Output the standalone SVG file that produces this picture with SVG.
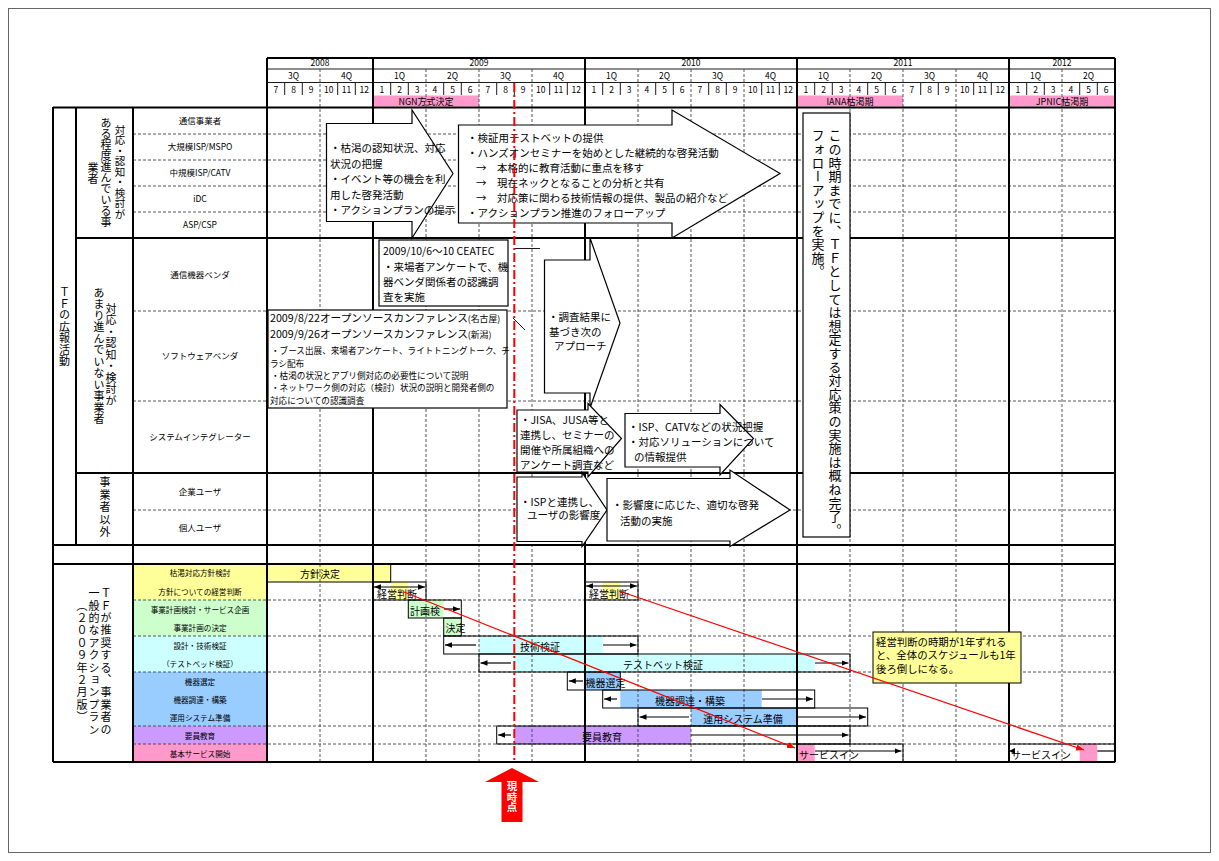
<svg xmlns="http://www.w3.org/2000/svg" width="1219" height="861" viewBox="0 0 1219 861">
<defs>
<style>
text{font-family:"Noto Sans CJK JP","Liberation Sans",sans-serif;fill:#000}
.th{stroke:#000;stroke-width:2;fill:none}
.tn{stroke:#000;stroke-width:0.9;fill:none}
.ds{stroke:#444;stroke-width:0.9;stroke-dasharray:3 2;fill:none}
.hd{font-size:8.5px;text-anchor:middle}
.lb{font-size:8.5px;text-anchor:middle}
.lb2{font-size:7.6px;text-anchor:middle}
.vt{writing-mode:vertical-rl;font-size:11px;text-anchor:middle}
.sh{fill:#fff;stroke:#000;stroke-width:1.2}
.bt{font-size:10.5px}
.st{font-size:8.6px}
.gb{fill:none;stroke:#000;stroke-width:1}
.gt{font-size:10px}
.gtm{font-size:10px;text-anchor:middle}
.ga{stroke:#000;stroke-width:1.2;fill:none}
.rd{stroke:#f00;stroke-width:1.2;fill:none}
.yl{fill:#FFFF99}.gr{fill:#CCFFCC}.cy{fill:#CCFFFF}.bl{fill:#99CCFF}.pu{fill:#CC99FF}.pk{fill:#FF99CC}
</style>
<marker id="ah" viewBox="0 0 10 10" refX="10" refY="5" markerWidth="7" markerHeight="7" orient="auto-start-reverse" markerUnits="userSpaceOnUse"><path d="M0,1 L10,5 L0,9 z" fill="#000"/></marker>
<marker id="rh" viewBox="0 0 10 10" refX="10" refY="5" markerWidth="8" markerHeight="8" orient="auto" markerUnits="userSpaceOnUse"><path d="M0,1 L10,5 L0,9 z" fill="#f00"/></marker>
</defs>
<rect x="8.5" y="8.5" width="1202" height="844" fill="#fff" stroke="#666" stroke-width="1"/>

<!-- cell fills -->
<g id="fills">
<rect x="373" y="95.5" width="106" height="11" class="pk"/>
<rect x="797" y="95.5" width="106" height="11" class="pk"/>
<rect x="1009" y="95.5" width="106" height="11" class="pk"/>
<rect x="133" y="564" width="134" height="36" class="yl"/>
<rect x="133" y="600" width="134" height="36" class="gr"/>
<rect x="133" y="636" width="134" height="36" class="cy"/>
<rect x="133" y="672" width="134" height="54" class="bl"/>
<rect x="133" y="726" width="134" height="18" class="pu"/>
<rect x="133" y="744" width="134" height="18" class="pk"/>
<rect x="267" y="564" width="123.7" height="18" class="yl"/>
<rect x="390.7" y="582" width="17.6" height="18" class="yl"/>
<rect x="602.7" y="582" width="17.6" height="18" class="yl"/>
<rect x="408.3" y="600" width="35.4" height="18" class="gr"/>
<rect x="443.7" y="618" width="17.6" height="18" class="gr"/>
<rect x="479" y="636" width="123.7" height="18" class="cy"/>
<rect x="514.3" y="654" width="300.4" height="18" class="cy"/>
<rect x="585" y="672" width="35.3" height="18" class="bl"/>
<rect x="620.3" y="690" width="141.4" height="18" class="bl"/>
<rect x="691" y="708" width="106" height="18" class="bl"/>
<rect x="514.3" y="726" width="176.7" height="18" class="pu"/>
<rect x="797" y="744" width="17.7" height="18" class="pk"/>
<rect x="1079.7" y="744" width="17.6" height="18" class="pk"/>
</g>

<!-- grid -->
<g id="grid">
<path class="tn" d="M267,69H1115M267,82.5H1115"/>
<path class="tn" d="M284.7,83V95M302.3,83V95M337.7,83V95M355.3,83V95M390.7,83V95M408.3,83V95M443.7,83V95M461.3,83V95M496.7,83V95M514.3,83V95M549.7,83V95M567.3,83V95M602.7,83V95M620.3,83V95M655.7,83V95M673.3,83V95M708.7,83V95M726.3,83V95M761.7,83V95M779.3,83V95M814.7,83V95M832.3,83V95M867.7,83V95M885.3,83V95M920.7,83V95M938.3,83V95M973.7,83V95M991.3,83V95M1026.7,83V95M1044.3,83V95M1079.7,83V95M1097.3,83V95"/>
<path class="ds" d="M320,69V762M426,69V762M479,69V762M532,69V762M638,69V762M691,69V762M744,69V762M850,69V762M903,69V762M956,69V762M1062,69V762"/>
<path class="ds" d="M133,134H1115M133,160H1115M133,186H1115M133,212H1115M133,311H1115M133,401H1115M133,510H1115M133,600H1115M133,636H1115M133,672H1115M133,726H1115M133,744H1115"/>
<path class="th" d="M267,58H1115M53,107.5H1115M76,238H1115M76,473H1115M53,545H1115M53,564H1115M53,762H1115"/>
<path class="th" d="M267,58V762M373,58V762M585,58V762M797,58V762M1009,58V762M1115,58V762M53,107V762M76,107V545M133,107V762"/>
</g>

<!-- header texts -->
<g id="header">
<text class="hd" x="320" y="66">2008</text><text class="hd" x="479" y="66">2009</text><text class="hd" x="691" y="66">2010</text><text class="hd" x="903" y="66">2011</text><text class="hd" x="1062" y="66">2012</text>
<text class="hd" x="293.5" y="79">3Q</text><text class="hd" x="346.5" y="79">4Q</text><text class="hd" x="399.5" y="79">1Q</text><text class="hd" x="452.5" y="79">2Q</text><text class="hd" x="505.5" y="79">3Q</text><text class="hd" x="558.5" y="79">4Q</text><text class="hd" x="611.5" y="79">1Q</text><text class="hd" x="664.5" y="79">2Q</text><text class="hd" x="717.5" y="79">3Q</text><text class="hd" x="770.5" y="79">4Q</text><text class="hd" x="823.5" y="79">1Q</text><text class="hd" x="876.5" y="79">2Q</text><text class="hd" x="929.5" y="79">3Q</text><text class="hd" x="982.5" y="79">4Q</text><text class="hd" x="1035.5" y="79">1Q</text><text class="hd" x="1088.5" y="79">2Q</text>
<text class="hd" x="275.8" y="93">7</text><text class="hd" x="293.5" y="93">8</text><text class="hd" x="311.2" y="93">9</text><text class="hd" x="328.8" y="93">10</text><text class="hd" x="346.5" y="93">11</text><text class="hd" x="364.2" y="93">12</text>
<text class="hd" x="381.8" y="93">1</text><text class="hd" x="399.5" y="93">2</text><text class="hd" x="417.2" y="93">3</text><text class="hd" x="434.8" y="93">4</text><text class="hd" x="452.5" y="93">5</text><text class="hd" x="470.2" y="93">6</text><text class="hd" x="487.8" y="93">7</text><text class="hd" x="505.5" y="93">8</text><text class="hd" x="523.2" y="93">9</text><text class="hd" x="540.8" y="93">10</text><text class="hd" x="558.5" y="93">11</text><text class="hd" x="576.2" y="93">12</text>
<text class="hd" x="593.8" y="93">1</text><text class="hd" x="611.5" y="93">2</text><text class="hd" x="629.2" y="93">3</text><text class="hd" x="646.8" y="93">4</text><text class="hd" x="664.5" y="93">5</text><text class="hd" x="682.2" y="93">6</text><text class="hd" x="699.8" y="93">7</text><text class="hd" x="717.5" y="93">8</text><text class="hd" x="735.2" y="93">9</text><text class="hd" x="752.8" y="93">10</text><text class="hd" x="770.5" y="93">11</text><text class="hd" x="788.2" y="93">12</text>
<text class="hd" x="805.8" y="93">1</text><text class="hd" x="823.5" y="93">2</text><text class="hd" x="841.2" y="93">3</text><text class="hd" x="858.8" y="93">4</text><text class="hd" x="876.5" y="93">5</text><text class="hd" x="894.2" y="93">6</text><text class="hd" x="911.8" y="93">7</text><text class="hd" x="929.5" y="93">8</text><text class="hd" x="947.2" y="93">9</text><text class="hd" x="964.8" y="93">10</text><text class="hd" x="982.5" y="93">11</text><text class="hd" x="1000.2" y="93">12</text>
<text class="hd" x="1017.8" y="93">1</text><text class="hd" x="1035.5" y="93">2</text><text class="hd" x="1053.2" y="93">3</text><text class="hd" x="1070.8" y="93">4</text><text class="hd" x="1088.5" y="93">5</text><text class="hd" x="1106.2" y="93">6</text>
<text class="hd" x="426" y="104.5" style="font-size:9px">NGN方式決定</text>
<text class="hd" x="850" y="104.5" style="font-size:9px">IANA枯渇期</text>
<text class="hd" x="1062" y="104.5" style="font-size:9px">JPNIC枯渇期</text>
</g>

<!-- left labels -->
<g id="left-labels">
<text class="vt" x="64.5" y="327" style="letter-spacing:0.5px">ＴＦの広報活動</text>
<text class="vt" x="120" y="172" style="font-size:10.5px">対応・認知・検討が</text>
<text class="vt" x="106" y="172">ある程度進んでいる事</text>
<text class="vt" x="93" y="173">業者</text>
<text class="vt" x="111" y="355" style="letter-spacing:0.5px">対応・認知・検討が</text>
<text class="vt" x="99" y="356" style="letter-spacing:0.5px">あまり進んでいない事業者</text>
<text class="vt" x="105" y="508" style="letter-spacing:1.5px">事業者以外</text>
<text class="vt" x="106" y="662" style="letter-spacing:1.4px">ＴＦが推奨する、事業者の</text>
<text class="vt" x="94" y="662" style="letter-spacing:1.4px">一般的なアクションプラン</text>
<text class="vt" x="82" y="662" style="letter-spacing:1.4px">（２００９年２月版）</text>
<text class="lb" x="200" y="124">通信事業者</text>
<text class="lb" x="200" y="150">大規模ISP/MSPO</text>
<text class="lb" x="200" y="176">中規模ISP/CATV</text>
<text class="lb" x="200" y="202">iDC</text>
<text class="lb" x="200" y="228">ASP/CSP</text>
<text class="lb" x="200" y="278">通信機器ベンダ</text>
<text class="lb" x="200" y="359">ソフトウェアベンダ</text>
<text class="lb" x="200" y="440">システムインテグレーター</text>
<text class="lb" x="200" y="494.5">企業ユーザ</text>
<text class="lb" x="200" y="531">個人ユーザ</text>
<text class="lb2" x="200" y="576">枯渇対応方針検討</text>
<text class="lb2" x="200" y="594.5">方針についての経営判断</text>
<text class="lb2" x="200" y="612.5">事業計画検討・サービス企画</text>
<text class="lb2" x="200" y="630.5">事業計画の決定</text>
<text class="lb2" x="200" y="648.5">設計・技術検証</text>
<text class="lb2" x="200" y="666.5">（テストベッド検証）</text>
<text class="lb2" x="200" y="684.5">機器選定</text>
<text class="lb2" x="200" y="702.5">機器調達・構築</text>
<text class="lb2" x="200" y="720.5">運用システム準備</text>
<text class="lb2" x="200" y="738.5">要員教育</text>
<text class="lb2" x="200" y="756.5">基本サービス開始</text>
</g>

<!-- gantt tasks -->
<g id="gantt">
<rect x="267" y="564" width="123.7" height="18" class="gb"/>
<text class="gtm" x="320" y="577.5">方針決定</text>
<rect x="373" y="582" width="53" height="18" class="gb"/>
<line x1="374" y1="587" x2="425" y2="587" class="ga" marker-start="url(#ah)" marker-end="url(#ah)"/>
<text class="gt" x="377" y="597.5">経営判断</text>
<rect x="585" y="582" width="53" height="18" class="gb"/>
<line x1="586" y1="586" x2="637" y2="586" class="ga" marker-start="url(#ah)" marker-end="url(#ah)"/>
<text class="gt" x="589" y="597.5">経営判断</text>
<rect x="408.3" y="600" width="53" height="18" class="gb"/>
<line x1="444" y1="609" x2="460" y2="609" class="ga" marker-end="url(#ah)"/>
<text class="gt" x="410" y="614.5">計画検</text>
<rect x="443.7" y="618" width="17.6" height="18" class="gb"/>
<text class="gt" x="445.5" y="632">決定</text>
<rect x="443.7" y="636" width="194.3" height="18" class="gb"/>
<line x1="476" y1="645" x2="445" y2="645" class="ga" marker-end="url(#ah)"/>
<line x1="603" y1="645" x2="636.5" y2="645" class="ga" marker-end="url(#ah)"/>
<text class="gtm" x="540" y="651">技術検証</text>
<rect x="479" y="654" width="371" height="18" class="gb"/>
<line x1="511" y1="663" x2="480.5" y2="663" class="ga" marker-end="url(#ah)"/>
<line x1="815" y1="663" x2="848.5" y2="663" class="ga" marker-end="url(#ah)"/>
<text class="gtm" x="663" y="668.5">テストベット検証</text>
<rect x="567.3" y="672" width="53" height="18" class="gb"/>
<line x1="583" y1="681" x2="568.8" y2="681" class="ga" marker-end="url(#ah)"/>
<text class="gt" x="585.5" y="686.5">機器選定</text>
<rect x="602.7" y="690" width="212" height="18" class="gb"/>
<line x1="617" y1="699" x2="604.2" y2="699" class="ga" marker-end="url(#ah)"/>
<line x1="762" y1="699" x2="813" y2="699" class="ga" marker-end="url(#ah)"/>
<text class="gtm" x="690" y="704.5">機器調達・構築</text>
<rect x="638" y="708" width="229.7" height="18" class="gb"/>
<line x1="689" y1="717" x2="639.5" y2="717" class="ga" marker-end="url(#ah)"/>
<line x1="797" y1="717" x2="866" y2="717" class="ga" marker-end="url(#ah)"/>
<text class="gtm" x="743" y="722.5">運用システム準備</text>
<rect x="496.7" y="726" width="353.3" height="18" class="gb"/>
<line x1="511" y1="735" x2="498.2" y2="735" class="ga" marker-end="url(#ah)"/>
<line x1="691" y1="735" x2="848.5" y2="735" class="ga" marker-end="url(#ah)"/>
<text class="gtm" x="602" y="740.5">要員教育</text>
<rect x="797" y="744" width="106" height="18" class="gb"/>
<line x1="815" y1="751" x2="901.5" y2="751" class="ga" marker-end="url(#ah)"/>
<text class="gt" x="799" y="758.5">サービスイン</text>
<rect x="1009" y="744" width="106" height="18" class="gb"/>
<line x1="1097.3" y1="751" x2="1115" y2="751" class="ga"/>
<path d="M1009,751 L1015,748 L1015,754 z" fill="#000"/>
<text class="gt" x="1011" y="758.5">サービスイン</text>
</g>

<!-- top section shapes -->
<g id="arrow-awareness">
<path class="sh" d="M326.5,123.5H412V110L453,173.5L412,238V221.5H326.5z"/>
<text class="bt" x="330" y="152">・枯渇の認知状況、対応</text>
<text class="bt" x="330" y="167.5">状況の把握</text>
<text class="bt" x="330" y="183">・イベント等の機会を利</text>
<text class="bt" x="330" y="198.5">用した啓発活動</text>
<text class="bt" x="330" y="214">・アクションプランの提示</text>
</g>
<g id="arrow-testbed">
<path class="sh" d="M458.5,125H672V110L780,173.5L672,238V223H458.5z"/>
<text class="bt" x="467" y="141.5">・検証用テストベットの提供</text>
<text class="bt" x="467" y="156.5">・ハンズオンセミナーを始めとした継続的な啓発活動</text>
<text class="bt" x="476" y="171.5">→　本格的に教育活動に重点を移す</text>
<text class="bt" x="476" y="186.5">→　現在ネックとなることの分析と共有</text>
<text class="bt" x="476" y="201.5">→　対応策に関わる技術情報の提供、製品の紹介など</text>
<text class="bt" x="467" y="216.5">・アクションプラン推進のフォローアップ</text>
</g>
<g id="box-ceatec">
<rect class="sh" x="379" y="240" width="129" height="66"/>
<text class="bt" x="383" y="254.5">2009/10/6～10 CEATEC</text>
<text class="bt" x="383" y="271">・来場者アンケートで、機</text>
<text class="bt" x="383" y="286">器ベンダ関係者の認識調</text>
<text class="bt" x="383" y="300.5">査を実施</text>
<path class="tn" d="M515,248.5H540M513,318L525,330"/>
</g>
<g id="box-osc">
<rect class="sh" x="268" y="310" width="239" height="98"/>
<text x="270" y="322" style="font-size:10.7px">2009/8/22オープンソースカンファレンス<tspan style="font-size:8.8px">(名古屋)</tspan></text>
<text x="270" y="338" style="font-size:10.7px">2009/9/26オープンソースカンファレンス<tspan style="font-size:8.8px">(新潟)</tspan></text>
<text class="st" x="271" y="353.5">・ブース出展、来場者アンケート、ライトトニングトーク、チ</text>
<text class="st" x="270" y="366.5">ラシ配布</text>
<text class="st" x="271" y="378.5">・枯渇の状況とアプリ側対応の必要性について説明</text>
<text class="st" x="271" y="391">・ネットワーク側の対応（検討）状況の説明と開発者側の</text>
<text class="st" x="270" y="403.5">対応についての認識調査</text>
</g>
<g id="arrow-survey">
<path class="sh" d="M544.5,260H590V238L620,323L590,408V393H544.5z"/>
<text class="bt" x="548" y="321">・調査結果に</text>
<text class="bt" x="549" y="336">基づき次の</text>
<text class="bt" x="554" y="350">アプローチ</text>
</g>
<g id="arrow-jisa">
<path class="sh" d="M517,410H588V403.5L621.5,438.5L588,477V472H517z"/>
<text class="bt" x="520" y="424">・JISA、JUSA等と</text>
<text class="bt" x="520" y="439">連携し、セミナーの</text>
<text class="bt" x="520" y="454">開催や所属組織への</text>
<text class="bt" x="520" y="469">アンケート調査など</text>
</g>
<g id="arrow-catv">
<path class="sh" d="M625,413.5H720V404.5L753.5,438.5L720,475V467H625z"/>
<text class="bt" x="628" y="431">・ISP、CATVなどの状況把握</text>
<text class="bt" x="628" y="446">・対応ソリューションについて</text>
<text class="bt" x="634" y="461">の情報提供</text>
</g>
<g id="arrow-isp">
<path class="sh" d="M517,477H582V472.5L607,510L582,546.5V541.5H517z"/>
<text class="bt" x="520" y="505.5">・ISPと連携し、</text>
<text class="bt" x="527" y="518.5">ユーザの影響度</text>
</g>
<g id="arrow-impact">
<path class="sh" d="M607,478.5H730V470L790,510L730,546.5V541H607z"/>
<text class="bt" x="612" y="508.5">・影響度に応じた、適切な啓発</text>
<text class="bt" x="620" y="525">活動の実施</text>
</g>
<g id="box-followup">
<rect class="sh" x="803" y="113" width="47" height="424"/>
<text x="835" y="129" style="writing-mode:vertical-rl;font-size:13px;letter-spacing:0.6px">この時期までに、ＴＦとしては想定する対応策の実施は概ね完了。</text>
<text x="818" y="129" style="writing-mode:vertical-rl;font-size:13px;letter-spacing:0.6px">フォローアップを実施。</text>
</g>
<g id="note">
<rect x="873" y="632" width="148" height="51" fill="#FFFF99" stroke="#000" stroke-width="1"/>
<text x="876" y="645.5" style="font-size:10.4px">経営判断の時期が1年ずれる</text>
<text x="876" y="659" style="font-size:10.4px">と、全体のスケジュールも1年</text>
<text x="876" y="672.5" style="font-size:10.4px">後ろ倒しになる。</text>
</g>

<!-- connectors -->
<g id="connectors">
<line x1="514.3" y1="83" x2="514.3" y2="762" stroke="#f00" stroke-width="2" stroke-dasharray="9 3 2 3"/>
<line x1="404" y1="592" x2="795" y2="748" class="rd" marker-end="url(#rh)"/>
<line x1="619" y1="591" x2="1084" y2="750" class="rd" marker-end="url(#rh)"/>
</g>

<g id="now-marker">
<path d="M512,768L539,782H522.5V822H501.5V782H485z" fill="#f00"/>
<text x="512" y="797" style="writing-mode:vertical-rl;font-size:10.5px;font-weight:bold;text-anchor:middle;fill:#fff">現時点</text>
</g>
</svg>
